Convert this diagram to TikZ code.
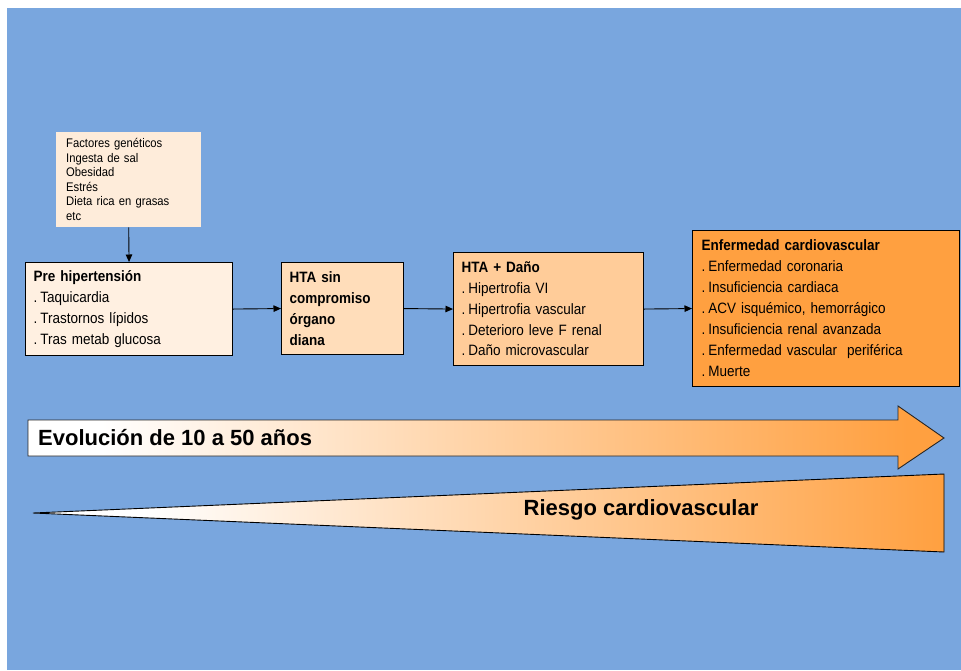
\documentclass[tikz,border=0pt]{standalone}
\usepackage{fontspec}
\setmainfont{Liberation Sans}
\newfontfamily\narrowf{Liberation Sans}[FakeStretch=0.9]
\usetikzlibrary{arrows.meta}
\definecolor{bgblue}{RGB}{121,166,222}
\definecolor{cFac}{RGB}{254,236,218}
\definecolor{cPre}{RGB}{255,240,225}
\definecolor{cHta}{RGB}{255,221,186}
\definecolor{cDan}{RGB}{255,204,153}
\definecolor{cEnf}{RGB}{255,160,64}
\newcommand\dotsp{.\hspace{3pt}}
\pgfdeclarehorizontalshading{evo}{100bp}{color(0bp)=(white); color(29bp)=(white); color(73bp)=(cEnf); color(100bp)=(cEnf)}
\pgfdeclarehorizontalshading{risk}{100bp}{color(0bp)=(white); color(31bp)=(white); color(75bp)=(cEnf); color(100bp)=(cEnf)}
\tikzset{
  box/.style={draw=black, line width=1.1pt, anchor=north west, align=left, inner xsep=8pt, inner ysep=0pt,
    font=\narrowf\fontsize{15}{20.8}\selectfont},
  conn/.style={line width=0.9pt, -{Triangle[length=7.5pt,width=6.5pt]}},
  bigtxt/.style={font=\bfseries\fontsize{22}{26}\selectfont, inner sep=0pt}
}
\begin{document}
\begin{tikzpicture}[x=1pt,y=-1pt]
\useasboundingbox (0,0) rectangle (961,670);
\fill[white] (0,0) rectangle (961,670);
\fill[bgblue] (7,8) rectangle (961,670);

% factors
\node[anchor=north west, fill=cFac, inner xsep=10pt, inner ysep=0pt, minimum width=145pt, minimum height=95pt,
  text width=125pt, align=left, font=\narrowf\fontsize{12.5}{14.5}\selectfont] (fac) at (56,132)
  {Factores genéticos\\Ingesta de sal\\Obesidad\\Estrés\\Dieta rica en grasas\\etc};

\node[box, fill=cPre, minimum width=207pt, minimum height=93pt, text width=191pt] (pre) at (25,262)
  {\textbf{Pre hipertensión}\\\dotsp Taquicardia\\\dotsp Trastornos lípidos\\\dotsp Tras metab glucosa};

\node[box, fill=cHta, minimum width=122pt, minimum height=92pt, text width=106pt, inner xsep=8pt] (hta) at (281,262)
  {\textbf{HTA sin}\\\textbf{compromiso}\\\textbf{órgano}\\\textbf{diana}};

\node[box, fill=cDan, minimum width=190pt, minimum height=113pt, text width=174pt] (dan) at (453,252)
  {\textbf{HTA + Daño}\\\dotsp Hipertrofia VI\\\dotsp Hipertrofia vascular\\\dotsp Deterioro leve F renal\\\dotsp Daño microvascular};

\node[box, fill=cEnf, minimum width=267pt, minimum height=156pt, text width=249pt, inner xsep=9pt,
  font=\narrowf\fontsize{15}{21}\selectfont] (enf) at (692,230)
  {\textbf{Enfermedad cardiovascular}\\\dotsp Enfermedad coronaria\\\dotsp Insuficiencia cardiaca\\\dotsp ACV isquémico, hemorrágico\\\dotsp Insuficiencia renal avanzada\\\dotsp Enfermedad vascular\ \ periférica\\\dotsp Muerte};

\draw[conn] (fac.south) -- (pre.north);
\draw[conn] (pre.east) -- (hta.west);
\draw[conn] (hta.east) -- (dan.west);
\draw[conn] (dan.east) -- (enf.west);

% big arrow
\draw[shading=evo, draw=black!85, line width=0.9pt, line join=miter]
  (28,420) -- (898,420) -- (898,406) -- (944,438) -- (898,469) -- (898,456) -- (28,456) -- cycle;
\node[bigtxt, anchor=west] (evo) at (38,438) {Evolución de 10 a 50 años};

% risk triangle
\draw[shading=risk, draw=black, line width=0.9pt, line join=miter]
  (33,513) -- (944,474) -- (944,552) -- cycle;
\node[bigtxt] (risk) at (641,510) {Riesgo cardiovascular};
\end{tikzpicture}
\end{document}
